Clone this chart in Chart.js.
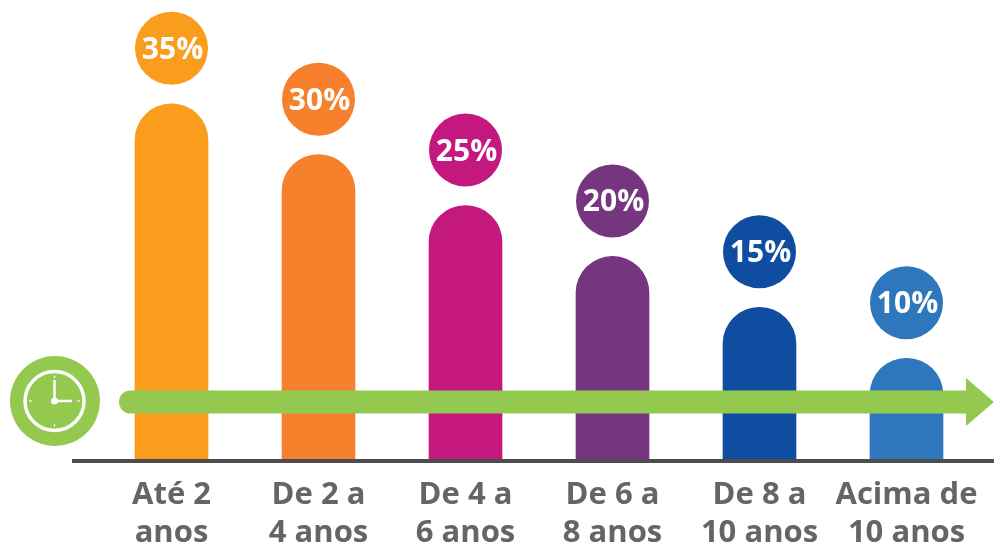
<!DOCTYPE html>
<html lang="pt">
<head>
<meta charset="utf-8">
<title>Tempo</title>
<script src="https://cdn.jsdelivr.net/npm/chart.js@4"></script>
<style>
    html, body { margin: 0; padding: 0; background: #fff; }
    #wrap { width: 994px; height: 544px; }
</style>
</head>
<body>
<div id="wrap"><canvas id="grafico" width="994" height="544"></canvas></div>
<script>
const categorias = [['Até 2', 'anos'], ['De 2 a', '4 anos'], ['De 4 a', '6 anos'], ['De 6 a', '8 anos'], ['De 8 a', '10 anos'], ['Acima de', '10 anos']];
const valores = [35, 30, 25, 20, 15, 10];
const cores = ['#fa9d1d', '#f6802b', '#c4187f', '#76367f', '#0f4da0', '#2e77bc'];

const VERDE = '#94c94f';

// circulos com a porcentagem acima de cada barra
const circulos = {
    id: 'circulos',
    afterDatasetsDraw(chart) {
        const ctx = chart.ctx;
        chart.getDatasetMeta(0).data.forEach((barra, i) => {
            const y = barra.y - 55.5;
            ctx.save();
            ctx.fillStyle = cores[i];
            ctx.beginPath();
            ctx.arc(barra.x, y, 36.5, 0, Math.PI * 2);
            ctx.fill();
            ctx.fillStyle = '#fff';
            ctx.font = '700 30px "Open Sans"';
            ctx.textAlign = 'center';
            ctx.textBaseline = 'middle';
            ctx.fillText(valores[i] + '%', barra.x + 1, y + 2);
            ctx.restore();
        });
    }
};

// linha de base, seta do tempo e relogio
const decoracao = {
    id: 'decoracao',
    afterDatasetsDraw(chart) {
        const ctx = chart.ctx;
        const base = chart.scales.y.getPixelForValue(0);
        ctx.save();

        ctx.fillStyle = '#4d4d4f';
        ctx.fillRect(72, base - 1, 922, 4);

        ctx.fillStyle = VERDE;
        ctx.beginPath();
        ctx.roundRect(119, 390.5, 860, 23, [11.5, 0, 0, 11.5]);
        ctx.fill();
        ctx.beginPath();
        ctx.moveTo(966, 378);
        ctx.lineTo(994, 402);
        ctx.lineTo(966, 426);
        ctx.closePath();
        ctx.fill();

        ctx.beginPath();
        ctx.arc(55, 401, 45, 0, Math.PI * 2);
        ctx.fill();

        ctx.strokeStyle = '#fff';
        ctx.lineWidth = 3.5;
        ctx.beginPath();
        ctx.arc(54.5, 401, 29.5, 0, Math.PI * 2);
        ctx.stroke();

        ctx.lineWidth = 2.5;
        ctx.beginPath();
        ctx.moveTo(54.5, 401);
        ctx.lineTo(54.5, 380);
        ctx.moveTo(54.5, 401);
        ctx.lineTo(72, 401);
        ctx.stroke();

        ctx.fillStyle = '#fff';
        ctx.beginPath();
        ctx.arc(54.5, 401, 3.5, 0, Math.PI * 2);
        ctx.fill();

        ctx.lineWidth = 1.2;
        ctx.beginPath();
        ctx.moveTo(54.5, 375.5);
        ctx.lineTo(54.5, 378);
        ctx.moveTo(54.5, 424);
        ctx.lineTo(54.5, 426.5);
        ctx.moveTo(29, 401);
        ctx.lineTo(32, 401);
        ctx.moveTo(77, 401);
        ctx.lineTo(80, 401);
        ctx.stroke();

        ctx.restore();
    }
};

new Chart(document.getElementById('grafico'), {
    type: 'bar',
    data: {
        labels: categorias,
        datasets: [{
            data: valores,
            backgroundColor: cores,
            barThickness: 73,
            borderRadius: { topLeft: 36.5, topRight: 36.5 },
            borderSkipped: 'bottom'
        }]
    },
    options: {
        responsive: false,
        animation: false,
        layout: { padding: { left: 98, right: 14, top: 2, bottom: 0 } },
        plugins: { legend: { display: false }, tooltip: { enabled: false } },
        scales: {
            y: { display: false, min: 0, max: 45 },
            x: {
                afterFit(escala) {
                    escala.height = 84;
                    escala.paddingLeft = 0;
                    escala.paddingRight = 0;
                },
                grid: { display: false, drawTicks: false },
                border: { display: false },
                ticks: {
                    autoSkip: false,
                    maxRotation: 0,
                    padding: 17,
                    color: '#636569',
                    font: { family: '"Open Sans"', weight: '700', size: 31, lineHeight: 1.2 }
                }
            }
        }
    },
    plugins: [decoracao, circulos]
});
</script>
</body>
</html>
